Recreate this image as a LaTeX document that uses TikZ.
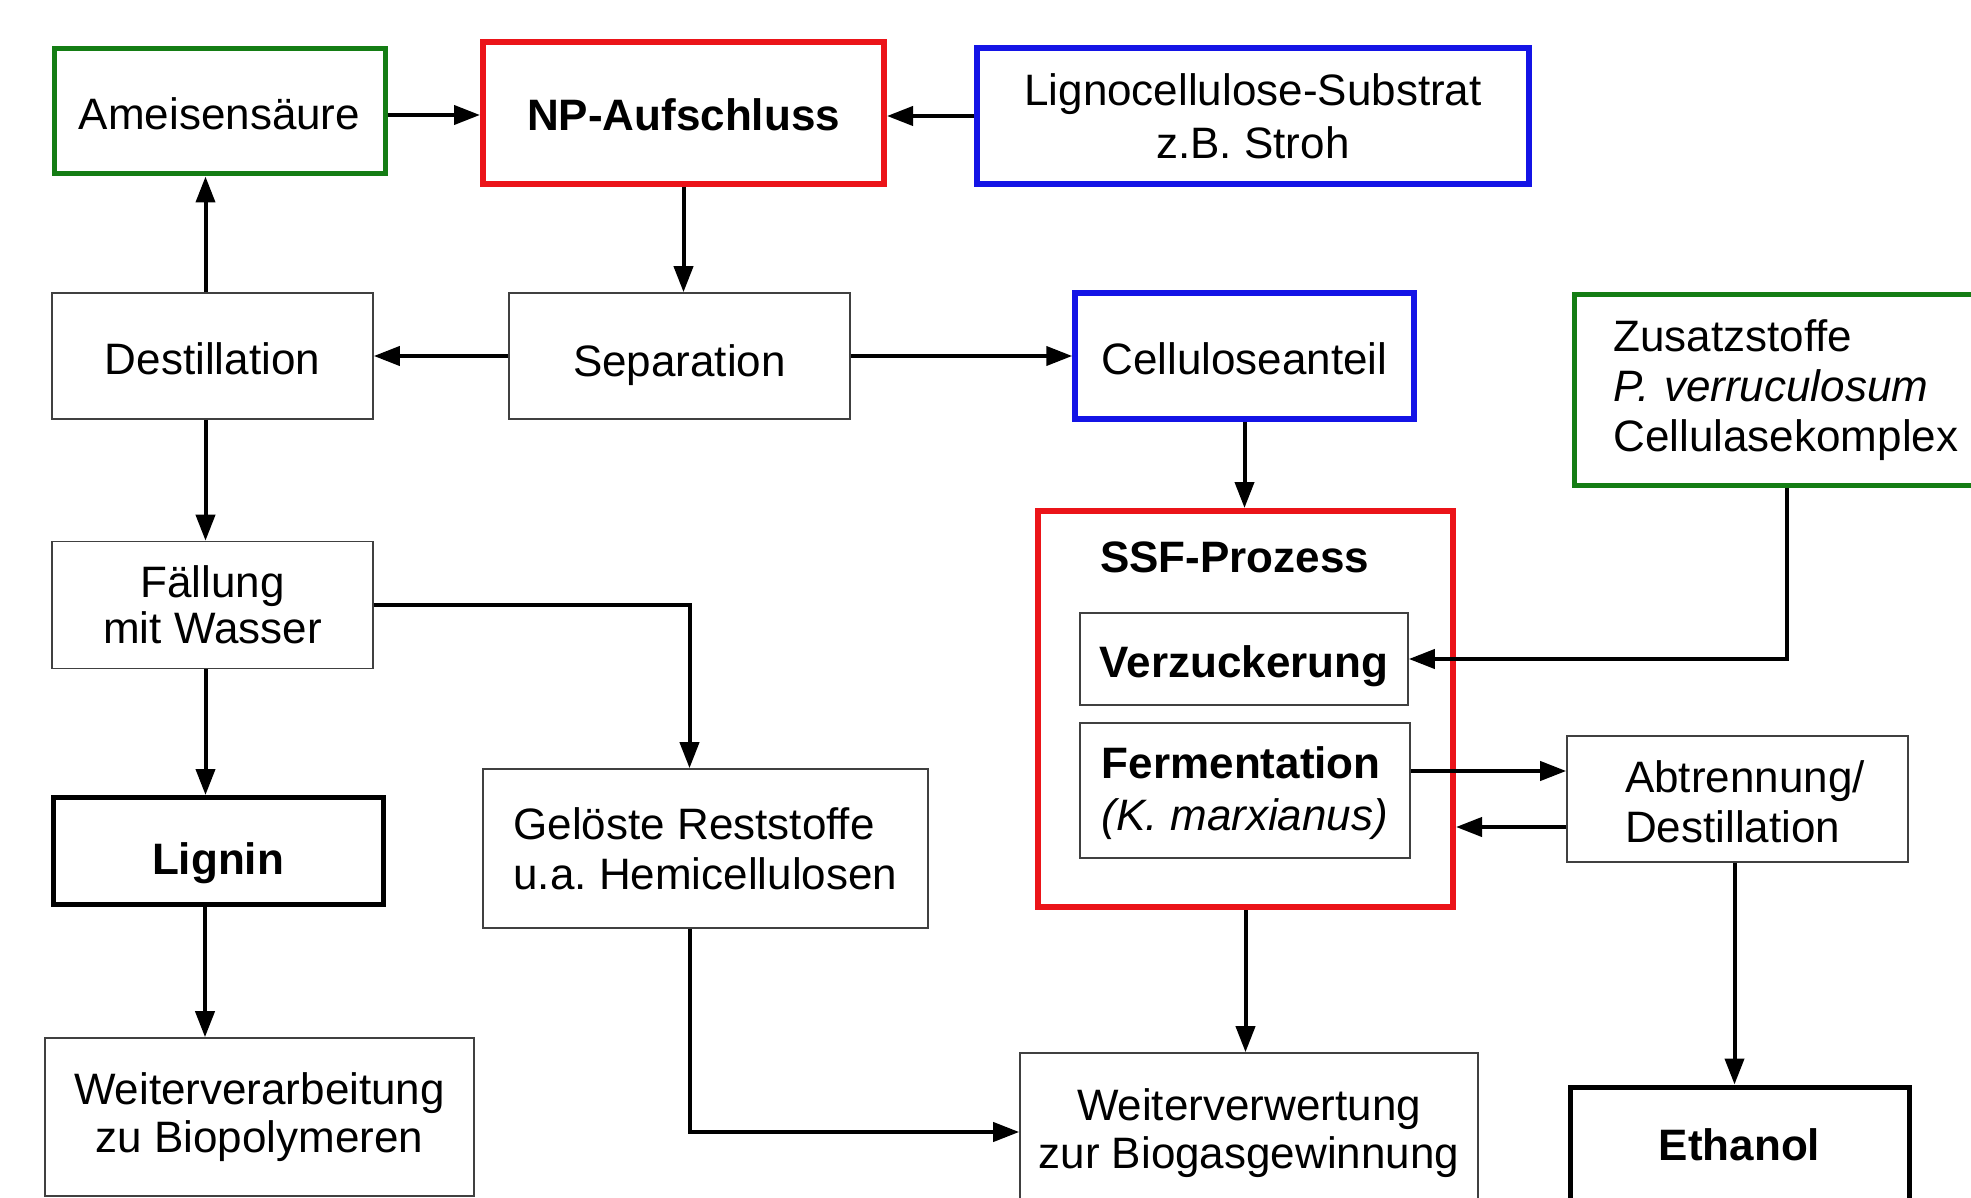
\documentclass[tikz,border=0pt]{standalone}
\usepackage{fontspec}
\setmainfont{Liberation Sans}
\usetikzlibrary{arrows.meta}
\definecolor{bgreen}{RGB}{20,125,20}
\definecolor{bred}{RGB}{235,20,25}
\definecolor{bblue}{RGB}{20,20,230}
\frenchspacing
\begin{document}
\begin{tikzpicture}[x=1pt,y=-1pt,
  box/.style={rectangle, inner sep=0pt, align=center, font=\fontsize{44}{50}\selectfont},
  one/.style={text height=36pt, text depth=0pt},
  thinbox/.style={box, draw=black!75, line width=1.6pt},
  greenbox/.style={box, draw=bgreen, line width=5pt},
  redbox/.style={box, draw=bred, line width=6pt},
  bluebox/.style={box, draw=bblue, line width=5.5pt},
  blackbox/.style={box, draw=black, line width=5pt, font=\fontsize{44}{50}\selectfont\bfseries},
  arr/.style={line width=4pt, -{Triangle[length=26pt,width=19pt]}}]
\useasboundingbox (0,0) rectangle (1971,1198);
\clip (0,0) rectangle (1971,1198);
\fill[white] (0,0) rectangle (1971,1198);

% top row
\node[greenbox, one, minimum width=331pt, minimum height=125pt] (ameise) at (219.5,111.5) {Ameisensäure};
\node[redbox, one, minimum width=401pt, minimum height=142pt, font=\fontsize{44}{50}\selectfont\bfseries] (np) at (683.5,113) {NP-Aufschluss};
\node[bluebox, minimum width=552pt, minimum height=136pt, font=\fontsize{44}{53}\selectfont] (ligno) at (1253,116) {Lignocellulose-Substrat\\z.B. Stroh};

% second row
\node[thinbox, one, minimum width=321pt, minimum height=126pt] (destill) at (212.5,356) {Destillation};
\node[thinbox, minimum width=341pt, minimum height=126pt, text height=40pt, text depth=0pt] (separ) at (679.5,356) {Separation};
\node[bluebox, one, minimum width=339pt, minimum height=126pt] (cellu) at (1244.5,356) {Celluloseanteil};
\node[greenbox, text width=381pt, inner xsep=39pt, align=left, minimum height=191pt, anchor=west] (zusatz) at (1572,390) {Zusatzstoffe\\\textit{P. verruculosum}\\Cellulasekomplex};

% left column
\node[thinbox, minimum width=321pt, minimum height=127pt, font=\fontsize{44}{46}\selectfont] (faell) at (212.5,605) {Fällung\\mit Wasser};
\node[blackbox, minimum width=330pt, minimum height=107pt, text height=62pt, text depth=15pt] (lignin) at (218,851) {Lignin};
\node[thinbox, minimum width=429pt, minimum height=158pt, font=\fontsize{44}{48}\selectfont] (weiterv) at (259.5,1117) {Weiterverarbeitung\\zu Biopolymeren};
\node[thinbox, minimum width=445pt, minimum height=159pt, align=left] (geloest) at (705.5,848.5) {Gelöste Reststoffe\\u.a. Hemicellulosen};

% SSF block
\node[redbox, minimum width=415pt, minimum height=396pt] (ssf) at (1245.5,709) {};
\node[box, anchor=west, font=\fontsize{44}{50}\selectfont\bfseries] (ssflabel) at (1100,557) {SSF-Prozess};
\node[thinbox, one, minimum width=328pt, minimum height=92pt, font=\fontsize{44}{50}\selectfont\bfseries] (verz) at (1244,659) {Verzuckerung};
\node[thinbox, minimum width=330pt, minimum height=135pt, align=left, font=\fontsize{44}{52}\selectfont] (ferm) at (1245,790.5) {\rule{0pt}{38pt}\textbf{Fermentation}\\\textit{(K. marxianus)}};
\node[thinbox, minimum width=341pt, minimum height=126pt, align=left] (abtr) at (1737.5,799) {\rule{0pt}{38pt}\hspace*{15pt}Abtrennung/\\\hspace*{15pt}Destillation};

% bottom row
\node[thinbox, minimum width=458pt, minimum height=152pt, font=\fontsize{44}{48}\selectfont] (weiterw) at (1249,1129) {\rule{0pt}{40pt}Weiterverwertung\\zur Biogasgewinnung};
\node[blackbox, minimum width=339pt, minimum height=120pt, text height=26pt, text depth=0pt] (ethanol) at (1739.5,1147) {Ethanol};

% connectors
\draw[arr] ([yshift=-3.5pt]ameise.east) -- ([yshift=-3.5pt]ameise.east -| np.west);
\draw[arr] (ligno.west) -- (ligno.west -| np.east);
\draw[arr] (np.south) -- (np.south |- separ.north);
\draw[arr] (separ.west) -- (separ.west -| destill.east);
\draw[arr] (separ.east) -- (separ.east -| cellu.west);
\draw[arr] ([xshift=-7pt]destill.north) -- ([xshift=-7pt]destill.north |- ameise.south);
\draw[arr] ([xshift=-7pt]destill.south) -- ([xshift=-7pt]destill.south |- faell.north);
\draw[arr] ([xshift=-7pt]faell.south) -- ([xshift=-7pt]faell.south |- lignin.north);
\draw[arr] ([xshift=-13pt]lignin.south) -- ([xshift=-13pt]lignin.south |- weiterv.north);
\draw[arr] (faell.east) -| ([xshift=-16pt]geloest.north);
\draw[arr] ([xshift=-16pt]geloest.south) |- ([yshift=-3pt]weiterw.west);
\draw[arr] (cellu.south) -- (cellu.south |- ssf.north);
\draw[arr] ([xshift=-17.5pt]zusatz.south) |- (verz.east);
\draw[arr] ([yshift=19.5pt]ferm.east) -- ([yshift=19.5pt]ferm.east -| abtr.west);
\draw[arr] ([yshift=-28pt]abtr.west) -- ([yshift=-28pt]abtr.west -| ssf.east);
\draw[arr] (ssf.south) -- (ssf.south |- weiterw.north);
\draw[arr] ([xshift=-3pt]abtr.south) -- ([xshift=-3pt]abtr.south |- ethanol.north);
\end{tikzpicture}
\end{document}
